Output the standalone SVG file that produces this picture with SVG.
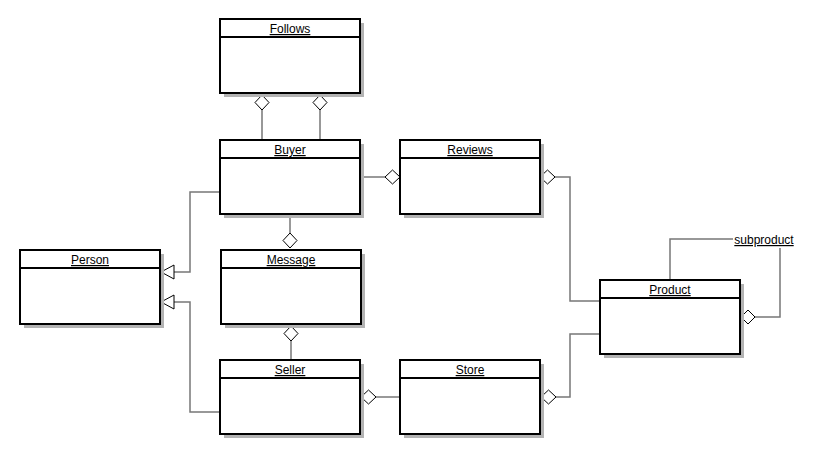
<svg xmlns="http://www.w3.org/2000/svg" width="813" height="455" viewBox="0 0 813 455">
<style>
.sh{fill:#b3b3b3}
.bx{fill:#fff;stroke:#000;stroke-width:2}
.t{font-family:"Liberation Sans",Arial,sans-serif;font-size:12px;text-anchor:middle;text-decoration:underline}
.c{fill:none;stroke:#777;stroke-width:1.5}
.d{fill:#fff;stroke:#000;stroke-width:1}
</style>
<defs>
<g id="box"><rect class="sh" x="4" y="4" width="140" height="74"/><rect class="bx" x="0" y="0" width="140" height="74"/><line x1="0" y1="18" x2="140" y2="18" stroke="#000" stroke-width="2"/></g>
</defs>
<g id="connectors">
<path class="c" d="M262,93V140M320,93V140"/>
<path class="d" d="M262,95l7,7.5l-7,7.5l-7,-7.5z"/>
<path class="d" d="M320,95l7,7.5l-7,7.5l-7,-7.5z"/>
<path class="c" d="M360,177H385"/>
<path class="d" d="M400,177l-7.5,7l-7.5,-7l7.5,-7z"/>
<path class="c" d="M555,177H570V301H600"/>
<path class="d" d="M540,177l7.5,-7l7.5,7l-7.5,7z"/>
<path class="c" d="M290,214V233"/>
<path class="d" d="M290,233l7,7.5l-7,7.5l-7,-7.5z"/>
<path class="c" d="M291,341V360"/>
<path class="d" d="M291,326l7,7.5l-7,7.5l-7,-7.5z"/>
<path class="c" d="M376,397H400"/>
<path class="d" d="M361,397l7.5,-7l7.5,7l-7.5,7z"/>
<path class="c" d="M556,397H570V334H600"/>
<path class="d" d="M541,397l7.5,-7l7.5,7l-7.5,7z"/>
<path class="c" d="M220,192H190V272H173"/>
<path class="d" d="M161,272l13,-7v14z"/>
<path class="c" d="M220,412H190V302H173"/>
<path class="d" d="M161,302l13,-7v14z"/>
<path class="c" d="M670,280V239H733M780,248V317H755"/>
<path class="d" d="M741,317l7,-7l7,7l-7,7z"/>
</g>
<g id="Follows" transform="translate(220,19)"><use href="#box"/><text class="t" x="70" y="14">Follows</text></g>
<g id="Buyer" transform="translate(220,140)"><use href="#box"/><text class="t" x="70" y="14">Buyer</text></g>
<g id="Reviews" transform="translate(400,140)"><use href="#box"/><text class="t" x="70" y="14">Reviews</text></g>
<g id="Person" transform="translate(20,250)"><use href="#box"/><text class="t" x="70" y="14">Person</text></g>
<g id="Message" transform="translate(221,250)"><use href="#box"/><text class="t" x="70" y="14">Message</text></g>
<g id="Seller" transform="translate(220,360)"><use href="#box"/><text class="t" x="70" y="14">Seller</text></g>
<g id="Store" transform="translate(400,360)"><use href="#box"/><text class="t" x="70" y="14">Store</text></g>
<g id="Product" transform="translate(600,280)"><use href="#box"/><text class="t" x="70" y="14">Product</text></g>
<text class="t" x="764" y="244">subproduct</text>
</svg>
